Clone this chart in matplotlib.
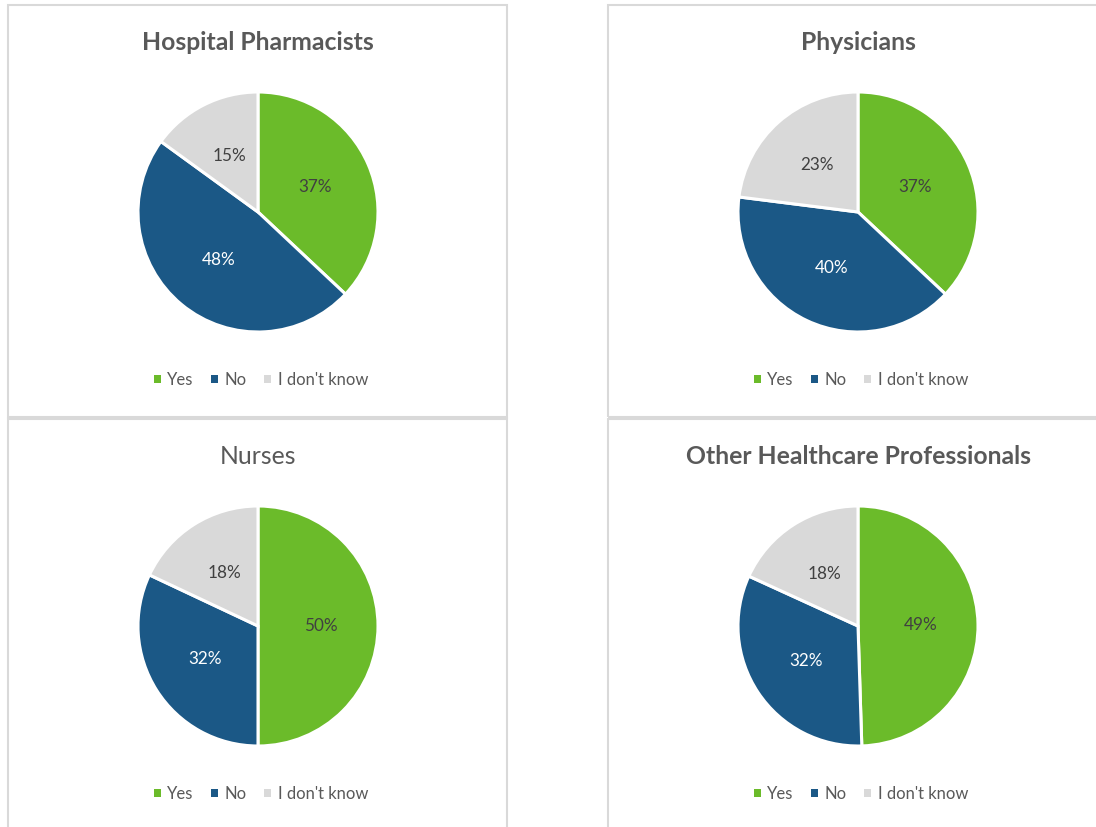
import math
import matplotlib
matplotlib.use("Agg")
import matplotlib.pyplot as plt
from matplotlib.patches import Rectangle, Patch

plt.rcParams['font.family'] = ['Lato', 'DejaVu Sans']

categories = ["Yes", "No", "I don't know"]
titles = ["Hospital Pharmacists", "Physicians", "Nurses", "Other Healthcare Professionals"]
title_bold = [True, True, False, True]
values_pharmacists = [37, 48, 15]
values_physicians = [37, 40, 23]
values_nurses = [50, 32, 18]
values_other = [49, 32, 18]
all_values = [values_pharmacists, values_physicians, values_nurses, values_other]

colors = ["#6BBB2A", "#1B5886", "#D9D9D9"]
label_colors = ["#404040", "white", "#404040"]

W, H = 1096, 827
fig = plt.figure(figsize=(W / 100, H / 100), dpi=100)

def fx(px):
    return px / W

def fy(py):
    return 1 - py / H

# panel boxes (pixel coords: left, top, right, bottom)
boxes = [(8, 5, 507, 417), (608, 5, 1100, 417), (8, 419, 507, 832), (608, 419, 1100, 832)]
centers = [(258, 212), (858, 212), (258, 626), (858, 626)]
R = 120

for i in range(4):
    l, t, r, b = boxes[i]
    fig.add_artist(Rectangle((fx(l), fy(b)), fx(r - l), (b - t) / H,
                             transform=fig.transFigure, fill=False,
                             edgecolor="#D9D9D9", linewidth=1.5))
    cx, cy = centers[i]
    ax = fig.add_axes([fx(cx - R), fy(cy + R), fx(2 * R), 2 * R / H])
    vals = all_values[i]
    ax.pie(vals, colors=colors, startangle=90, counterclock=False,
           wedgeprops=dict(edgecolor="white", linewidth=2.2))
    ax.set_xlim(-1.0, 1.0)
    ax.set_ylim(-1.0, 1.0)
    ax.set_aspect('equal')
    ax.axis('off')
    total = sum(vals)
    start = 90.0
    for j, v in enumerate(vals):
        ang = start - v / total * 360 / 2
        start -= v / total * 360
        x = 0.52 * math.cos(math.radians(ang))
        y = 0.52 * math.sin(math.radians(ang))
        ax.text(x, y, f"{v}%", ha="center", va="center", fontsize=12.3,
                color=label_colors[j])
    fig.text(fx(cx), fy(43 if i < 2 else 457), titles[i], ha="center", va="center",
             fontsize=17.8, color="#595959",
             fontweight="bold" if title_bold[i] else "normal")
    handles = [Patch(facecolor=c, edgecolor="none") for c in colors]
    fig.legend(handles, categories, loc="center",
               bbox_to_anchor=(fx(cx + 3), fy(380 if i < 2 else 794)),
               ncol=3, frameon=False, fontsize=12, labelcolor="#595959",
               handlelength=0.42, handleheight=0.42, handletextpad=0.4,
               columnspacing=1.05)

fig.savefig("out.png", dpi=100)
